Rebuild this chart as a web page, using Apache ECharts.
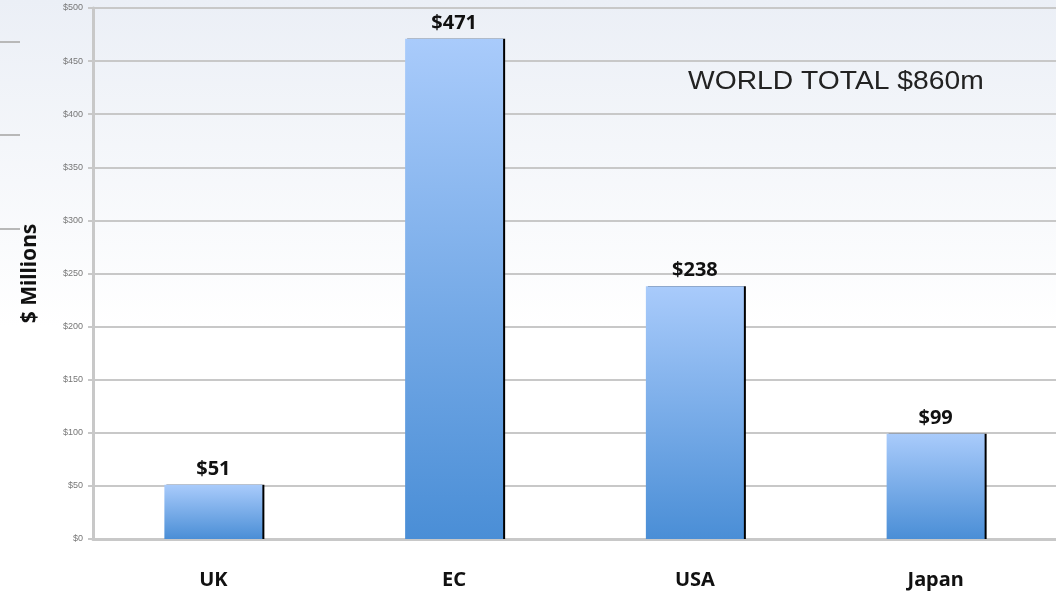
<!DOCTYPE html>
<html>
<head>
<meta charset="utf-8">
<script src="https://cdn.jsdelivr.net/npm/echarts@6/dist/echarts.min.js"></script>
<style>
html, body { margin: 0; padding: 0; }
#main { width: 1056px; height: 596px; }
</style>
</head>
<body>
<div id="main"></div>
<script>
// data
var regions = ['UK', 'EC', 'USA', 'Japan'];
var spend = [51, 471, 238, 99];
var totalText = 'WORLD TOTAL $860m';

var myChart = echarts.init(document.getElementById('main'));

var barColor = new echarts.graphic.LinearGradient(0, 0, 0, 1, [
    { offset: 0, color: '#a9cbfb' },
    { offset: 1, color: '#4a8ed6' }
]);

var option = {
    backgroundColor: new echarts.graphic.LinearGradient(0, 0, 0, 1, [
        { offset: 0, color: '#ebeff6' },
        { offset: 0.55, color: '#ffffff' },
        { offset: 1, color: '#ffffff' }
    ]),
    grid: { left: 93, right: 0, top: 8, bottom: 57 },
    graphic: [
        // leftover slide marks on the far left
        { type: 'rect', shape: { x: 0, y: 41, width: 20, height: 2 }, style: { fill: '#b8b8b8' } },
        { type: 'rect', shape: { x: 0, y: 134, width: 20, height: 2 }, style: { fill: '#b8b8b8' } },
        { type: 'rect', shape: { x: 0, y: 228, width: 20, height: 2 }, style: { fill: '#b8b8b8' } },
        {
            type: 'text', x: 688, y: 70, scaleX: 1.13,
            style: { text: totalText, font: '25px "Liberation Sans", Arial, sans-serif', fill: '#222' }
        }
    ],
    xAxis: {
        type: 'category',
        data: regions,
        axisLine: { lineStyle: { color: '#c8c8c8', width: 3 } },
        axisTick: { length: 3, lineStyle: { color: '#c8c8c8', width: 2 } },
        axisLabel: { margin: 31, color: '#111', fontSize: 20, fontWeight: 'bold', fontFamily: '"Noto Sans", sans-serif' }
    },
    yAxis: {
        type: 'value',
        min: 0,
        max: 500,
        interval: 50,
        name: '$ Millions',
        nameLocation: 'middle',
        nameGap: 52,
        nameTextStyle: { color: '#111', fontSize: 21, fontWeight: 'bold', fontFamily: '"Noto Sans", sans-serif' },
        axisLine: { show: true, lineStyle: { color: '#c8c8c8', width: 3 } },
        axisTick: { show: true, length: 5, lineStyle: { color: '#c8c8c8', width: 2 } },
        axisLabel: {
            color: '#777', fontSize: 9, margin: 10,
            formatter: function (v) { return '$' + v; }
        },
        splitLine: { lineStyle: { color: '#c8c8c8', width: 2 } }
    },
    series: [{
        type: 'bar',
        data: spend,
        barWidth: 98,
        itemStyle: {
            color: barColor,
            shadowColor: '#000',
            shadowOffsetX: 2,
            shadowOffsetY: 0,
            shadowBlur: 0
        },
        label: {
            show: true,
            position: 'top',
            distance: 6,
            color: '#111',
            fontSize: 20,
            fontWeight: 'bold',
            fontFamily: '"Noto Sans", sans-serif',
            formatter: function (p) { return '$' + p.value; }
        }
    }]
};

myChart.setOption(option);
</script>
</body>
</html>
